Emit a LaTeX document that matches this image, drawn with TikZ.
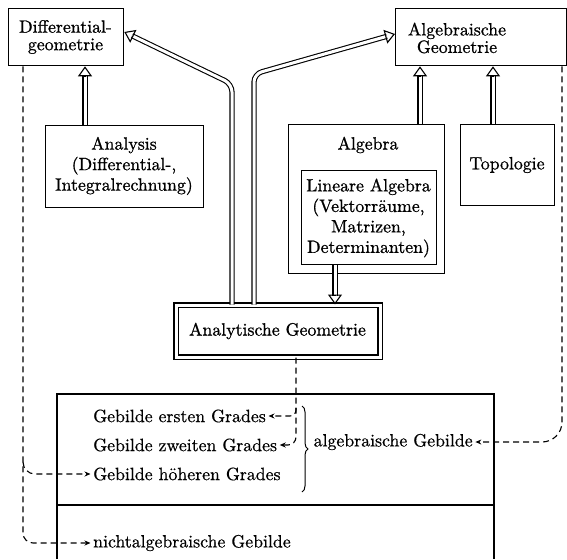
\documentclass[tikz,border=0pt]{standalone}
\usepackage{fontspec}
\newfontfamily\boxfont{lmroman10-regular}[Extension=.otf, FakeBold=0.9]
\newfontfamily\lowfont{lmroman10-regular}[Extension=.otf, FakeBold=0.5]
\usetikzlibrary{arrows.meta,decorations.pathreplacing,calc}
\begin{document}
\begin{tikzpicture}[x=1pt,y=-1pt,
  every node/.style={font=\lowfont\fontsize{17.8}{20.5}\selectfont, inner sep=0pt},
  box/.style={draw, line width=1.3pt, anchor=north west},
  btext/.style={font=\boxfont\fontsize{17.8}{20.5}\selectfont, align=center},
  btextsm/.style={font=\boxfont\fontsize{17.8}{17.5}\selectfont, align=center},
  gtext/.style={anchor=west, inner xsep=2.5pt},
  dblshaft/.style={double, double distance=3pt, line width=1.1pt, rounded corners=8pt, shorten >=8.5pt},
  dblhead/.style={line width=1.1pt, -{Triangle[open, length=10pt, width=14pt]}},
  dsh/.style={dash pattern=on 6pt off 4pt, line width=1.1pt, -{Stealth[length=6pt,width=5pt]}},
]
\useasboundingbox (0,0) rectangle (567,559);
\fill[white] (0,0) rectangle (567,559);

% boxes
\node[box, minimum width=115pt, minimum height=57pt] (diff) at (8,8) {};
\node[box, minimum width=171pt, minimum height=57pt] (ag) at (395,8) {};
\node[box, minimum width=158pt, minimum height=82pt] (analysis) at (45,125) {};
\node[box, minimum width=156pt, minimum height=149pt] (algebra) at (288,124) {};
\node[box, minimum width=135pt, minimum height=94pt] (linalg) at (301,170) {};
\node[box, minimum width=94pt, minimum height=81pt] (topo) at (460,124) {};
\node[draw, double, double distance=3pt, line width=1.1pt, anchor=north west,
      minimum width=204pt, minimum height=52pt] (anageo) at (175.5,304.5) {};

% texts in boxes
\node[btextsm] (difftext) at (65.5,37) {Differential-\\geometrie};
\node[btextsm] (agtext) at (457,38) {Algebraische\\Geometrie};
\node[btext] (analysistext) at (124,166) {Analysis\\(Differential-,\\Integralrechnung)};
\node[btext] (algebralbl) at (368,145) {Algebra};
\node[btext] (linalgtext) at (368.5,218) {Lineare Algebra\\(Vektorräume,\\Matrizen,\\Determinanten)};
\node[btext] (topotext) at (507,165) {Topologie};
\node[btext] (anageotext) at (277.5,331) {Analytische Geometrie};

% bottom box
\coordinate (bl) at (57,559);
\coordinate (tl) at (57,394);
\coordinate (tr) at (494,394);
\coordinate (br) at (494,559);
\coordinate (dl) at (57,505);
\coordinate (dr) at (494,505);
\draw[line width=1.3pt] (bl) -- (tl) -- (tr) -- (br);
\draw[line width=1.3pt] (dl) -- (dr);

\node[gtext] (g1) at (90.5,416) {Gebilde ersten Grades};
\node[gtext] (g2) at (90.5,445) {Gebilde zweiten Grades};
\node[gtext] (g3) at (90.5,474) {Gebilde höheren Grades};
\node[gtext] (g4) at (90.5,543) {nichtalgebraische Gebilde};
\node[gtext] (alg) at (311,442) {algebraische Gebilde};

\draw[line width=1pt, decorate, decoration={brace, amplitude=6pt}] (302,406) -- (302,492);

% double arrows: shafts
\coordinate (t1) at (85,0 |- diff.south);
\coordinate (t2) at (diff.east |- 0,32);
\coordinate (c2) at (232,84);
\coordinate (t3) at (ag.west |- 0,34);
\coordinate (c3) at (254,74);
\coordinate (t4) at (420,0 |- ag.south);
\coordinate (t5) at (493,0 |- ag.south);
\coordinate (t6) at (335,0 |- anageo.north);
\draw[dblshaft] (85,0 |- analysis.north) -- (t1);
\draw[dblshaft] (232,0 |- anageo.north) -- (c2) -- (t2);
\draw[dblshaft] (254,0 |- anageo.north) -- (c3) -- (t3);
\draw[dblshaft] (420,0 |- algebra.north) -- (t4);
\draw[dblshaft] (493,0 |- topo.north) -- (t5);
\draw[dblshaft] (335,0 |- linalg.south) -- (t6);
% double arrows: heads
\draw[dblhead] ($(t1)+(0,10)$) -- (t1);
\draw[dblhead] ($(t2)!10pt!(c2)$) -- (t2);
\draw[dblhead] ($(t3)!10pt!(c3)$) -- (t3);
\draw[dblhead] ($(t4)+(0,10)$) -- (t4);
\draw[dblhead] ($(t5)+(0,10)$) -- (t5);
\draw[dblhead] ($(t6)+(0,-10)$) -- (t6);

% dashed connectors
\draw[dsh, rounded corners=10pt] (23,0 |- diff.south) -- (23,0 |- g4.west) -- (g4.west);
\draw[dsh, rounded corners=12pt] (23,462) |- (g3.west);
\draw[dsh, rounded corners=8pt] (296,0 |- anageo.south) -- (296,0 |- g2.east) -- (g2.east);
\draw[dsh, rounded corners=6pt] (296,408) |- (g1.east);
\draw[dsh, rounded corners=20pt] (562,0 |- ag.south) -- (562,0 |- alg.east) -- (alg.east);
\end{tikzpicture}
\end{document}
